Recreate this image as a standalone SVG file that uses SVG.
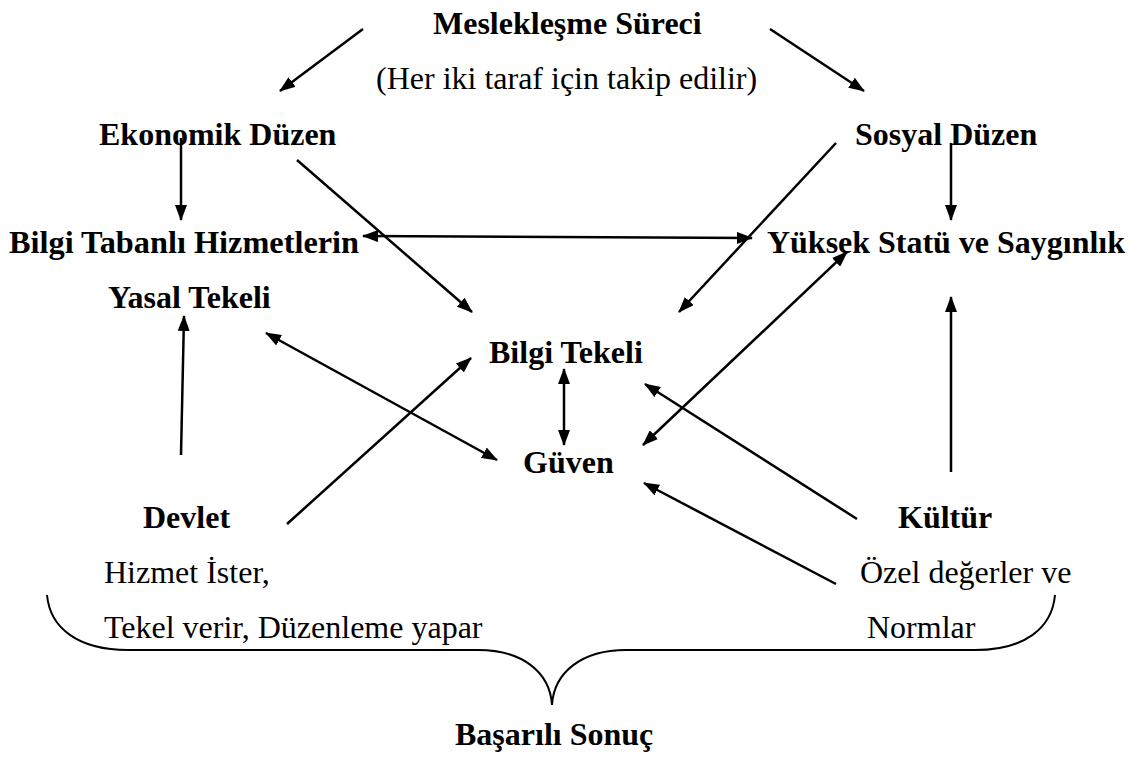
<svg xmlns="http://www.w3.org/2000/svg" width="1139" height="758" viewBox="0 0 1139 758">
<style>
text{font-family:"Liberation Serif","Times New Roman",serif;font-size:32px;fill:#000}
.b{font-weight:bold}
.c{stroke:#000;stroke-width:2.5;fill:none}
.br{stroke:#000;stroke-width:2;fill:none}
</style>
<defs>
<marker id="ah" viewBox="0 0 16 12" refX="15" refY="6" markerWidth="16" markerHeight="12" orient="auto-start-reverse" markerUnits="userSpaceOnUse">
<path d="M0,0 L16,6 L0,12 z" fill="#000"/>
</marker>
</defs>
<rect width="1139" height="758" fill="#fff"/>
<g id="meslek"><text class="b" x="433" y="34">Meslekleşme Süreci</text><text x="376" y="89">(Her iki taraf için takip edilir)</text></g>
<g id="ekonomik"><text class="b" x="99" y="145">Ekonomik Düzen</text></g>
<g id="sosyal"><text class="b" x="855" y="145">Sosyal Düzen</text></g>
<g id="bilgitabanli"><text class="b" x="9" y="253" textLength="350" lengthAdjust="spacingAndGlyphs">Bilgi Tabanlı Hizmetlerin</text><text class="b" x="108" y="308">Yasal Tekeli</text></g>
<g id="yuksek"><text class="b" x="767" y="253" textLength="358" lengthAdjust="spacingAndGlyphs">Yüksek Statü ve Saygınlık</text></g>
<g id="bilgitekeli"><text class="b" x="489" y="363">Bilgi Tekeli</text></g>
<g id="guven"><text class="b" x="523" y="473">Güven</text></g>
<g id="devlet"><text class="b" x="143" y="528">Devlet</text><text x="104" y="583">Hizmet İster,</text><text x="104" y="638">Tekel verir, Düzenleme yapar</text></g>
<g id="kultur"><text class="b" x="898" y="528">Kültür</text><text x="860" y="583">Özel değerler ve</text><text x="867" y="638">Normlar</text></g>
<g id="basarili"><text class="b" x="455" y="745">Başarılı Sonuç</text></g>
<g id="brace"><path class="br" d="M47,595 C50,628 78,650 128,650 L478,650 C522,650 550,672 552,705 C554,672 582,650 626,650 L975,650 C1025,650 1052,628 1055,595"/></g>
<g id="connectors" class="c">
<line x1="363" y1="29" x2="280" y2="91" marker-end="url(#ah)"/>
<line x1="770" y1="29" x2="864" y2="91" marker-end="url(#ah)"/>
<line x1="181" y1="138" x2="181" y2="220" marker-end="url(#ah)"/>
<line x1="951" y1="143" x2="951" y2="220" marker-end="url(#ah)"/>
<line x1="363" y1="236" x2="752" y2="238" marker-start="url(#ah)" marker-end="url(#ah)"/>
<line x1="297" y1="160" x2="472" y2="312" marker-end="url(#ah)"/>
<line x1="836" y1="143" x2="679" y2="312" marker-end="url(#ah)"/>
<line x1="181" y1="455" x2="184" y2="316" marker-end="url(#ah)"/>
<line x1="266" y1="333" x2="497" y2="460" marker-start="url(#ah)" marker-end="url(#ah)"/>
<line x1="287" y1="524" x2="471" y2="358" marker-end="url(#ah)"/>
<line x1="564" y1="369" x2="564" y2="445" marker-start="url(#ah)" marker-end="url(#ah)"/>
<line x1="643" y1="445" x2="847" y2="252" marker-start="url(#ah)" marker-end="url(#ah)"/>
<line x1="857" y1="519" x2="645" y2="384" marker-end="url(#ah)"/>
<line x1="836" y1="584" x2="644" y2="483" marker-end="url(#ah)"/>
<line x1="951" y1="472" x2="951" y2="297" marker-end="url(#ah)"/>
</g>
</svg>
